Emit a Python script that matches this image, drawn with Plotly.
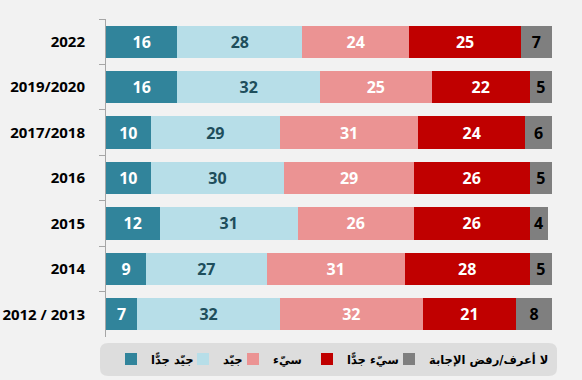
import plotly.graph_objects as go

years = ["2022", "2019/2020", "2017/2018", "2016", "2015", "2014", "2012 / 2013"]
very_good = [16, 16, 10, 10, 12, 9, 7]
good = [28, 32, 29, 30, 31, 27, 32]
bad = [24, 25, 31, 29, 26, 31, 32]
very_bad = [25, 22, 24, 26, 26, 28, 21]
dont_know = [7, 5, 6, 5, 4, 5, 8]

series_names = ["جيّد جدًّا", "جيّد", "سيّء", "سيّء جدًّا", "لا أعرف/رفض الإجابة"]
series_values = [very_good, good, bad, very_bad, dont_know]
colors = ["#31849B", "#B7DEE8", "#EB9393", "#C00000", "#7F7F7F"]
text_colors = ["#FFFFFF", "#1E4E5C", "#FFFFFF", "#FFFFFF", "#000000"]

W, H = 582, 380
ml, mr, mt, mb = 106, 30, 19, 43
pw, ph = W - ml - mr, H - mt - mb

def px2x(p):
    return (p - ml) / pw

def py2y(p):
    return (H - mb - p) / ph

# legend item left positions (pixels)
legend_px = [111, 183, 233, 307, 389]
legend_ids = ["legend", "legend2", "legend3", "legend4", "legend5"]

fig = go.Figure()
for name, vals, c, tc, lid in zip(series_names, series_values, colors, text_colors, legend_ids):
    fig.add_trace(go.Bar(
        y=years, x=vals, name=name, orientation="h",
        marker=dict(color=c, line=dict(width=0)),
        text=[str(v) for v in vals], textposition="inside",
        insidetextanchor="middle", textangle=0,
        textfont=dict(color=tc, size=16, family="Open Sans", weight="bold"),
        hoverinfo="skip", legend=lid,
    ))

x0, x1 = px2x(100), px2x(557)
y1, y0 = py2y(343), py2y(376)
rx, ry = 8 / pw, 8 / ph
path = (f"M {x0+rx},{y1} L {x1-rx},{y1} Q {x1},{y1} {x1},{y1-ry} "
        f"L {x1},{y0+ry} Q {x1},{y0} {x1-rx},{y0} L {x0+rx},{y0} "
        f"Q {x0},{y0} {x0},{y0+ry} L {x0},{y1-ry} Q {x0},{y1} {x0+rx},{y1} Z")

legend_font = dict(family="DejaVu Sans", size=11.5, color="#000000", weight="bold")
layout_legends = {}
for lid, lx in zip(legend_ids, legend_px):
    layout_legends[lid] = dict(
        orientation="h", x=px2x(lx), xanchor="left", y=py2y(359), yanchor="middle",
        bgcolor="rgba(0,0,0,0)", font=legend_font, itemwidth=30)

fig.update_layout(
    width=W, height=H,
    margin=dict(l=ml, r=mr, t=mt, b=mb, autoexpand=False),
    barmode="stack", bargap=0.29,
    paper_bgcolor="#F2F2F2", plot_bgcolor="#F2F2F2",
    showlegend=True,
    xaxis=dict(range=[0, 100], visible=False, fixedrange=True),
    yaxis=dict(categoryorder="array", categoryarray=years, autorange="reversed",
               showline=True, linecolor="#A6A6A6", linewidth=1,
               ticks="outside", tickson="boundaries", ticklen=6, tickcolor="#A6A6A6",
               tickfont=dict(family="Open Sans", size=15, color="#000000", weight="bold"),
               ticklabelstandoff=17, showgrid=False, automargin=False),
    shapes=[dict(type="path", path=path, xref="paper", yref="paper",
                 fillcolor="#DDDDDD", line=dict(width=0), layer="below")],
    **layout_legends,
)

fig.write_html(
    "out.html",
    config={"displayModeBar": False},
    post_script="document.body.style.margin='0';document.body.style.background='#F2F2F2';",
)
